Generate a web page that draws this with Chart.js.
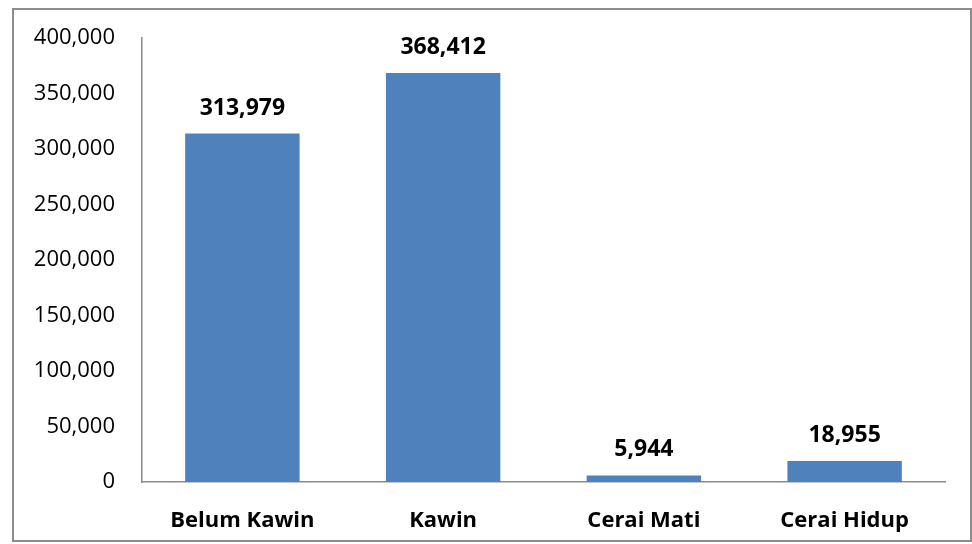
<!DOCTYPE html>
<html lang="id">
<head>
<meta charset="UTF-8">
<title>Status Perkawinan</title>
<style>
    body { margin: 0; background: #fff; }
    #wrap { position: relative; width: 972px; height: 544px; }
    #frame { position: absolute; left: 12px; top: 8px; width: 956px; height: 530px; border: 2px solid #8c8c8c; pointer-events: none; }
</style>
</head>
<body>
<div id="wrap">
    <canvas id="myChart" width="972" height="544"></canvas>
    <div id="frame"></div>
</div>
<script src="https://cdn.jsdelivr.net/npm/chart.js"></script>
<script>
    const kategori = ['Belum Kawin', 'Kawin', 'Cerai Mati', 'Cerai Hidup']
    const jumlah = [313979, 368412, 5944, 18955]
    const yTicks = [0, 50000, 100000, 150000, 200000, 250000, 300000, 350000, 400000]

    const fmt = v => v.toLocaleString('en-US')
    const FONT = "'Open Sans', sans-serif"

    // label angka di atas batang
    const labelAtas = {
        id: 'labelAtas',
        afterDatasetsDraw(chart) {
            const ctx = chart.ctx
            const meta = chart.getDatasetMeta(0)
            ctx.save()
            ctx.font = 'bold 23px ' + FONT
            ctx.fillStyle = '#000'
            ctx.textAlign = 'center'
            ctx.textBaseline = 'bottom'
            meta.data.forEach((bar, i) => {
                ctx.fillText(fmt(jumlah[i]), bar.x, bar.y - 14)
            })
            ctx.restore()
        }
    }

    new Chart(document.getElementById('myChart'), {
        type: 'bar',
        data: {
            labels: kategori,
            datasets: [{
                data: jumlah,
                backgroundColor: '#4f81bd',
                barPercentage: 0.57,
                categoryPercentage: 1
            }]
        },
        options: {
            responsive: false,
            animation: false,
            layout: { padding: { top: 38, right: 27, left: 0, bottom: 0 } },
            plugins: { legend: { display: false }, tooltip: { enabled: false } },
            scales: {
                x: {
                    grid: { display: false },
                    border: { display: true, color: '#8c8c8c', width: 1.5 },
                    ticks: { color: '#000', padding: 18, font: { family: FONT, size: 22, weight: 'bold' } },
                    afterFit: s => { s.height = 62 }
                },
                y: {
                    min: 0,
                    max: 400000,
                    grid: { display: false },
                    border: { display: true, color: '#8c8c8c', width: 1.5 },
                    afterBuildTicks: s => { s.ticks = yTicks.map(v => ({ value: v })) },
                    ticks: { color: '#000', padding: 19, font: { family: FONT, size: 22 }, callback: v => fmt(v) },
                    afterFit: s => { s.width = 142 }
                }
            }
        },
        plugins: [labelAtas]
    })
</script>
</body>
</html>
